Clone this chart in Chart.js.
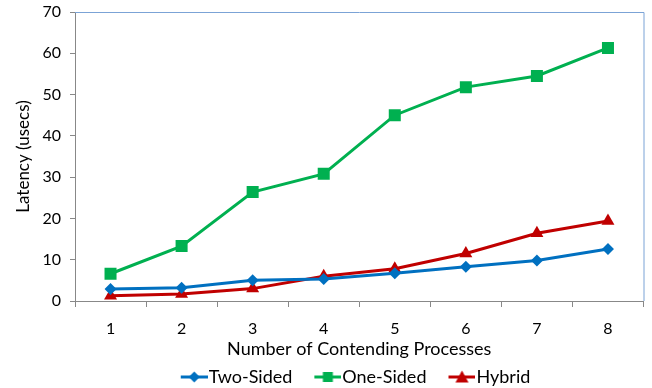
<!DOCTYPE html>
<html>
<head>
<meta charset="utf-8">
<script src="https://cdn.jsdelivr.net/npm/chart.js@4"></script>
<style>
  html, body { margin: 0; padding: 0; background: #fff; }
  #wrap { width: 652px; height: 388px; }
</style>
</head>
<body>
<div id="wrap"><canvas id="latencyChart" width="652" height="388"></canvas></div>
<script>
// chart data
const processes = ["1", "2", "3", "4", "5", "6", "7", "8"];
const twoSided = [2.9, 3.2, 5.0, 5.3, 6.7, 8.3, 9.8, 12.6];
const oneSided = [6.6, 13.3, 26.4, 30.8, 45.0, 51.8, 54.5, 61.3];
const hybrid = [1.3, 1.7, 3.0, 6.0, 7.8, 11.5, 16.4, 19.4];
const yTicks = [0, 10, 20, 30, 40, 50, 60, 70];

const FONT = "Lato, 'Liberation Sans', sans-serif";
const BLUE = "#0070C0", GREEN = "#00B050", RED = "#C00000";

// line+marker pictures for the legend, like Excel draws them.
// The canvas has blank room on the left: that gives the gap between
// legend items while the text sits right after the symbol.
const LEGEND_BOX = 41;
function legendIcon(color, shape) {
    const c = document.createElement("canvas");
    c.width = 57; c.height = 14;
    const g = c.getContext("2d");
    g.translate(30, 0);
    g.strokeStyle = color;
    g.lineWidth = 3;
    g.beginPath(); g.moveTo(0, 7); g.lineTo(27, 7); g.stroke();
    g.fillStyle = color;
    g.beginPath();
    if (shape === "diamond") {
        g.moveTo(13.5, 1.5); g.lineTo(19, 7); g.lineTo(13.5, 12.5); g.lineTo(8, 7);
    } else if (shape === "square") {
        g.rect(8.5, 2, 10, 10);
    } else {
        g.moveTo(13.5, 0.5); g.lineTo(20, 12.5); g.lineTo(7, 12.5);
    }
    g.closePath(); g.fill();
    return c;
}

const icons = [legendIcon(BLUE, "diamond"), legendIcon(GREEN, "square"), legendIcon(RED, "triangle")];

// thin blue frame on top and right edges of the plot,
// and legend nudged right/down like in the original
const framePlugin = {
    id: "frame",
    afterLayout(chart) {
        const lg = chart.legend;
        if (lg) {
            lg.left += 22;
            lg.right += 22;
            lg.top += 8;
            lg.bottom += 8;
        }
    },
    afterDraw(chart) {
        const { ctx, chartArea: a } = chart;
        ctx.save();
        ctx.strokeStyle = "#7BA3D6";
        ctx.lineWidth = 1;
        ctx.beginPath();
        ctx.moveTo(a.left, a.top + 0.5);
        ctx.lineTo(a.right + 0.5, a.top + 0.5);
        ctx.lineTo(a.right + 0.5, a.bottom);
        ctx.stroke();
        ctx.restore();
    }
};

const ctx = document.getElementById("latencyChart");
new Chart(ctx, {
    type: "line",
    data: {
        labels: processes,
        datasets: [
            {
                label: "Two-Sided",
                data: twoSided,
                borderColor: BLUE,
                backgroundColor: BLUE,
                borderWidth: 3,
                pointStyle: "rectRot",
                pointRadius: 6,
                pointBorderWidth: 0
            },
            {
                label: "One-Sided",
                data: oneSided,
                borderColor: GREEN,
                backgroundColor: GREEN,
                borderWidth: 3,
                pointStyle: "rect",
                pointRadius: 8.5,
                pointBorderWidth: 0
            },
            {
                label: "Hybrid",
                data: hybrid,
                borderColor: RED,
                backgroundColor: RED,
                borderWidth: 3,
                pointStyle: "triangle",
                pointRadius: 7.5,
                pointBorderWidth: 0
            }
        ]
    },
    options: {
        responsive: false,
        animation: false,
        layout: { padding: { left: 0, right: 7, top: 12, bottom: 0 } },
        plugins: {
            tooltip: { enabled: false },
            legend: {
                display: true,
                position: "bottom",
                labels: {
                    usePointStyle: true,
                    pointStyleWidth: LEGEND_BOX,
                    color: "#000",
                    padding: 0,
                    font: { family: FONT, size: 18 },
                    generateLabels(chart) {
                        return chart.data.datasets.map((ds, i) => ({
                            text: ds.label,
                            pointStyle: icons[i],
                            fillStyle: ds.borderColor,
                            strokeStyle: ds.borderColor,
                            lineWidth: 0,
                            datasetIndex: i,
                            fontColor: "#000"
                        }));
                    }
                }
            }
        },
        scales: {
            x: {
                offset: true,
                afterFit(scale) {
                    scale.height = 59;
                },
                grid: {
                    offset: true,
                    drawOnChartArea: false,
                    drawTicks: true,
                    tickLength: 6,
                    color: "#888"
                },
                border: { display: true, color: "#888", width: 1 },
                ticks: { color: "#000", padding: 12, font: { family: FONT, size: 16 } },
                title: {
                    display: true,
                    text: "Number of Contending Processes",
                    color: "#000",
                    padding: { top: 0, bottom: 0 },
                    font: { family: FONT, size: 18 }
                }
            },
            y: {
                min: 0,
                max: 70,
                afterBuildTicks(scale) {
                    scale.ticks = yTicks.map(v => ({ value: v }));
                },
                afterFit(scale) {
                    scale.width = 75;
                    scale.paddingTop = 0;
                    scale.paddingBottom = 0;
                },
                grid: {
                    drawOnChartArea: false,
                    drawTicks: true,
                    tickLength: 5,
                    color: "#888"
                },
                border: { display: true, color: "#888", width: 1 },
                ticks: { color: "#000", padding: 9, font: { family: FONT, size: 16 } },
                title: {
                    display: true,
                    text: "Latency (usecs)",
                    color: "#000",
                    padding: { top: 13, bottom: 0 },
                    font: { family: FONT, size: 17 }
                }
            }
        }
    },
    plugins: [framePlugin]
});
</script>
</body>
</html>
